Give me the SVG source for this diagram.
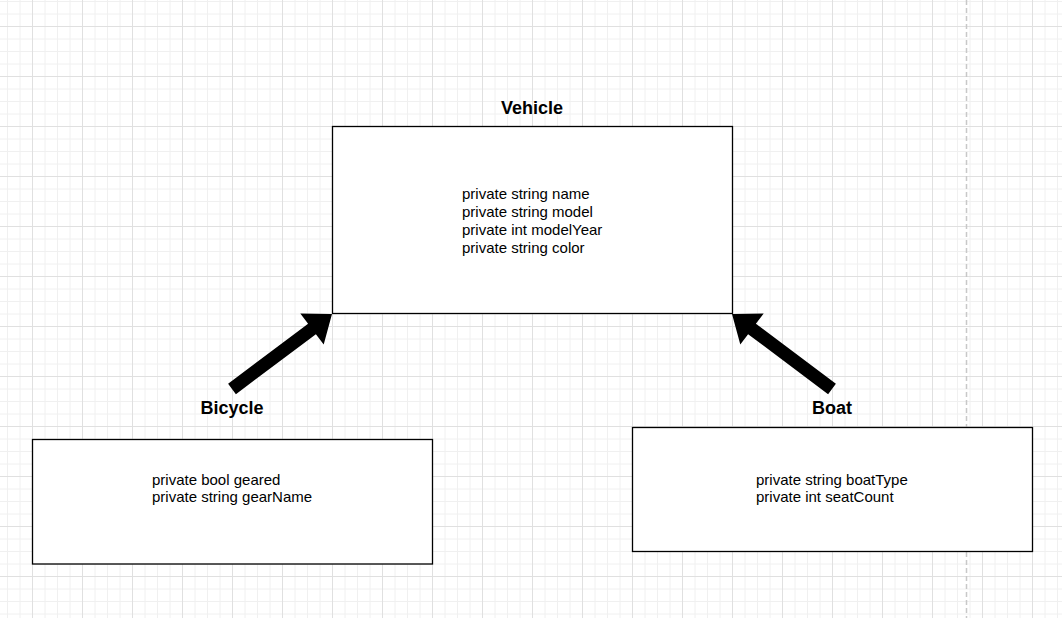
<svg xmlns="http://www.w3.org/2000/svg" width="1062" height="618" viewBox="0 0 1062 618">
  <defs>
    <pattern id="grid" x="32" y="26" width="50" height="50" patternUnits="userSpaceOnUse">
      <path d="M13 0V50M25.5 0V50M38 0V50M0 13H50M0 25.5H50M0 38H50" stroke="#f0f0f0" stroke-width="1" fill="none"/>
      <path d="M0.5 0V50M0 0.5H50" stroke="#e0e0e0" stroke-width="1" fill="none"/>
    </pattern>
    <style>
      .box { fill: #ffffff; stroke: #000000; stroke-width: 1.3; }
      .title { font-family: "Liberation Sans", Arial, sans-serif; font-size: 18px; font-weight: bold; fill: #000000; text-anchor: middle; }
      .attr { font-family: "Liberation Sans", Arial, sans-serif; font-size: 15px; fill: #000000; }
      .arrow { fill: #000000; stroke: none; }
    </style>
  </defs>
  <rect x="0" y="0" width="1062" height="618" fill="#ffffff"/>
  <rect x="0" y="0" width="1062" height="618" fill="url(#grid)"/>
  <line x1="966.5" y1="0" x2="966.5" y2="618" stroke="#c8c8c8" stroke-width="1.5" stroke-dasharray="5 3"/>

  <g id="connectors">
    <polygon class="arrow" transform="translate(232,389) rotate(-36.87)" points="0,-6.5 100,-6.5 100,-19.5 125,0 100,19.5 100,6.5 0,6.5"/>
    <polygon class="arrow" transform="translate(832,389) rotate(-143.13)" points="0,-6.5 100,-6.5 100,-19.5 125,0 100,19.5 100,6.5 0,6.5"/>
  </g>

  <g id="vehicle">
    <text class="title" x="532" y="114">Vehicle</text>
    <rect class="box" x="332.5" y="126.5" width="400" height="187"/>
    <text class="attr" x="462" y="199">private string name</text>
    <text class="attr" x="462" y="217">private string model</text>
    <text class="attr" x="462" y="235">private int modelYear</text>
    <text class="attr" x="462" y="253">private string color</text>
  </g>

  <g id="bicycle">
    <text class="title" x="232" y="414">Bicycle</text>
    <rect class="box" x="32.5" y="439.5" width="400" height="124.5"/>
    <text class="attr" x="152" y="485">private bool geared</text>
    <text class="attr" x="152" y="502">private string gearName</text>
  </g>

  <g id="boat">
    <text class="title" x="832" y="414">Boat</text>
    <rect class="box" x="632.5" y="427.5" width="400" height="124"/>
    <text class="attr" x="756" y="485">private string boatType</text>
    <text class="attr" x="756" y="502">private int seatCount</text>
  </g>
</svg>
